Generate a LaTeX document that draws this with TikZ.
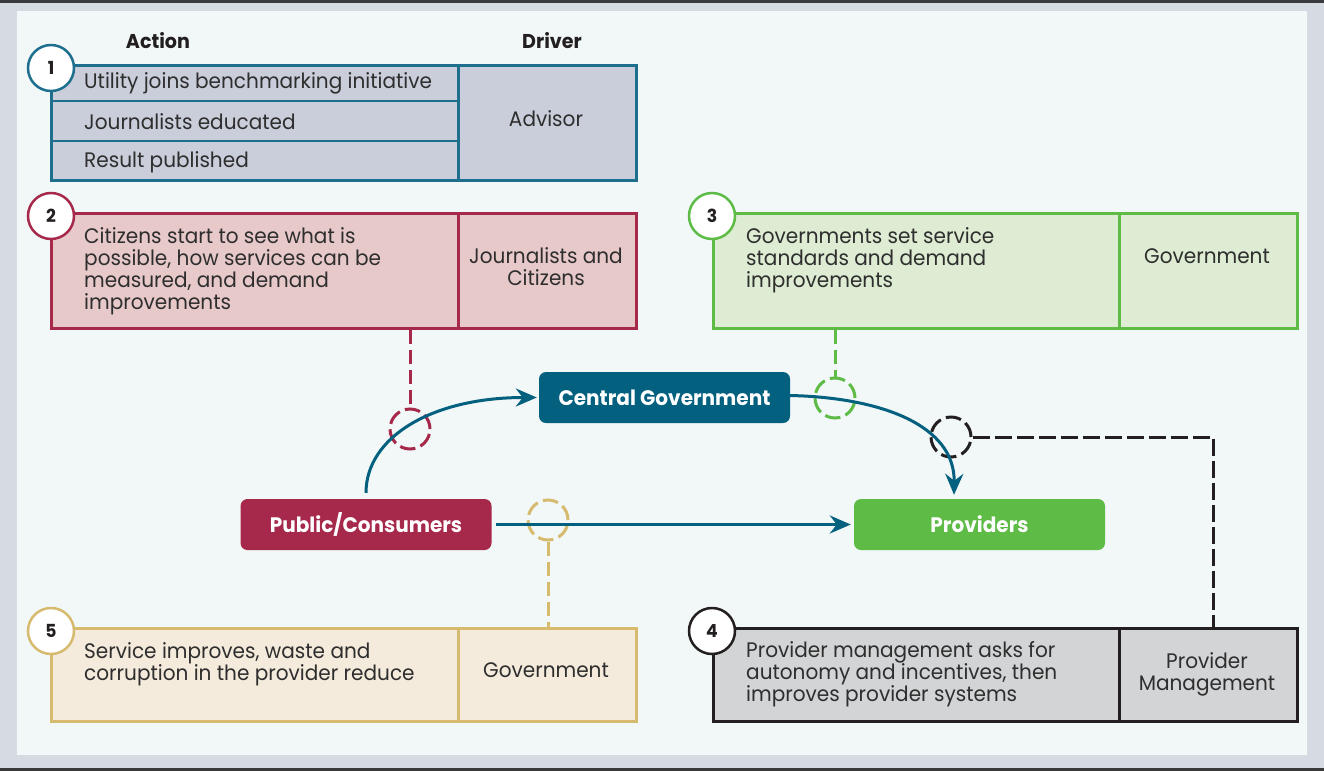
\documentclass[tikz,border=0pt]{standalone}
\usepackage{fontspec}
\setmainfont{Poppins}[FakeStretch=0.955]
\usetikzlibrary{arrows.meta}
\definecolor{outerbg}{HTML}{D5DAE3}
\definecolor{darkline}{HTML}{3A3A3C}
\definecolor{panel}{HTML}{F2F8F8}
\definecolor{teal}{HTML}{1E6E8E}
\definecolor{cgblue}{HTML}{04607F}
\definecolor{tealfill}{HTML}{C9CEDA}
\definecolor{crimson}{HTML}{A6294B}
\definecolor{crimsonfill}{HTML}{E8C9CA}
\definecolor{grn}{HTML}{5DBB46}
\definecolor{grnfill}{HTML}{DDECD3}
\definecolor{blk}{HTML}{231F20}
\definecolor{blkfill}{HTML}{D3D4D6}
\definecolor{tan}{HTML}{D6BA6E}
\definecolor{tanfill}{HTML}{F4EBDC}
\definecolor{textcol}{HTML}{2E2E2E}
\begin{document}
\begin{tikzpicture}[x=1pt,y=-1pt,
  cell/.style={draw, line width=2.5pt, anchor=north west, inner sep=0pt},
  actcell/.style={cell, minimum width=407pt},
  drvcell/.style={cell, minimum width=178pt},
  tallbox/.style={minimum height=115pt},
  shortbox/.style={minimum height=93pt},
  numcirc/.style={circle, draw=#1, fill=white, line width=2.5pt, minimum size=46pt, inner sep=0pt, text=blk, font=\bfseries\fontsize{18}{22}\selectfont},
  txt/.style={anchor=west, align=left, inner sep=0pt, text=textcol, font=\fontsize{21}{22}\selectfont},
  drv/.style={align=center, inner sep=0pt, text=textcol, font=\fontsize{21}{22}\selectfont},
  head/.style={inner sep=0pt, text=blk, font=\bfseries\fontsize{20}{22}\selectfont},
  mainnode/.style={rounded corners=7pt, minimum width=251pt, minimum height=51pt, inner sep=0pt, text=white, font=\bfseries\fontsize{21}{22}\selectfont},
  dcirc/.style={circle, draw=#1, line width=3pt, minimum size=40pt, inner sep=0pt, dash pattern=on 15.5pt off 5.5pt},
  dline/.style={line width=3pt, dash pattern=on 14pt off 6pt},
  bline/.style={line width=3pt, dash pattern=on 17pt off 5pt},
  flow/.style={draw=cgblue, line width=3pt, -{Stealth[length=21pt, width=18pt, inset=7pt]}}
]
\useasboundingbox (0,0) rectangle (1324,771);
\fill[outerbg] (0,0) rectangle (1324,771);
\fill[darkline] (0,0) rectangle (1324,3);
\fill[darkline] (0,768) rectangle (1324,771);
\fill[panel] (17,11) rectangle (1307,755);

% headers
\node[head] (hact) at (158,41) {Action};
\node[head] (hdrv) at (552,41) {Driver};

% box 1
\node[actcell, tallbox, draw=teal, fill=tealfill] (a1) at (50,64) {};
\node[drvcell, tallbox, draw=teal, fill=tealfill] (b1) at (457,64) {};
\draw[teal, line width=1.5pt] (50,101) -- (457,101);
\draw[teal, line width=1.5pt] (50,141) -- (457,141);
\node[txt] (t1a) at (84,83) {Utility joins benchmarking initiative};
\node[txt] (t1b) at (84,122) {Journalists educated};
\node[txt] (t1c) at (84,162) {Result published};
\node[drv] (d1t) at (546,119) {Advisor};
\node[numcirc=teal] (n1) at (51,68) {1};

% box 2
\node[actcell, tallbox, draw=crimson, fill=crimsonfill] (a2) at (50,212) {};
\node[drvcell, tallbox, draw=crimson, fill=crimsonfill] (b2) at (457,212) {};
\node[txt] (t2) at (84,271) {Citizens start to see what is\\possible, how services can be\\measured, and demand\\improvements};
\node[drv] (d2t) at (546,267) {Journalists and\\Citizens};
\node[numcirc=crimson] (n2) at (51,216) {2};

% box 3
\node[actcell, minimum width=406pt, tallbox, draw=grn, fill=grnfill] (a3) at (712,212) {};
\node[drvcell, tallbox, draw=grn, fill=grnfill] (b3) at (1118,212) {};
\node[txt] (t3) at (746,260) {Governments set service\\standards and demand\\improvements};
\node[drv] (d3t) at (1207,256) {Government};
\node[numcirc=grn] (n3) at (712,216) {3};

% box 4
\node[actcell, minimum width=406pt, shortbox, draw=blk, fill=blkfill] (a4) at (712,627) {};
\node[drvcell, shortbox, draw=blk, fill=blkfill] (b4) at (1118,627) {};
\node[txt] (t4) at (746,674.5) {Provider management asks for\\autonomy and incentives, then\\improves provider systems};
\node[drv] (d4t) at (1207,674) {Provider\\Management};
\node[numcirc=blk] (n4) at (712,631) {4};

% box 5
\node[actcell, shortbox, draw=tan, fill=tanfill] (a5) at (50,627) {};
\node[drvcell, shortbox, draw=tan, fill=tanfill] (b5) at (457,627) {};
\node[txt] (t5) at (84,664) {Service improves, waste and\\corruption in the provider reduce};
\node[drv] (d5t) at (546,670) {Government};
\node[numcirc=tan] (n5) at (51,631) {5};

% main nodes
\node[mainnode, fill=cgblue] (cg) at (664.5,397.5) {Central Government};
\node[mainnode, fill=crimson] (pc) at (366,524.5) {Public/Consumers};
\node[mainnode, fill=grn] (pv) at (979.5,524.5) {Providers};

% dashed circles
\node[dcirc=crimson] (c2) at (410,429) {};
\node[dcirc=grn] (c3) at (835,398) {};
\node[dcirc=blk] (c4) at (951,437) {};
\node[dcirc=tan] (c5) at (548,520) {};

% dashed links
\draw[dline, crimson] (a2.south -| c2) -- (c2.north);
\draw[dline, grn] (a3.south -| c3) -- (c3.north);
\coordinate (k4) at (1213,437);
\draw[bline, blk] (c4.east) -- (k4) -- (k4 |- b4.north);
\draw[dline, tan] (c5.south) -- (c5.south |- b5.north);

% flows
\draw[flow] ([yshift=6pt]pc.north) .. controls +(0,-55) and +(-106,0) .. ([xshift=-2pt]cg.west);
\draw[flow] ([yshift=2pt]cg.east) .. controls +(90,2) and +(1,-70) .. ([xshift=-25.5pt,yshift=4pt]pv.north);
\draw[flow] ([xshift=4pt]pc.east) -- ([xshift=-3pt]pv.west);
\end{tikzpicture}
\end{document}
